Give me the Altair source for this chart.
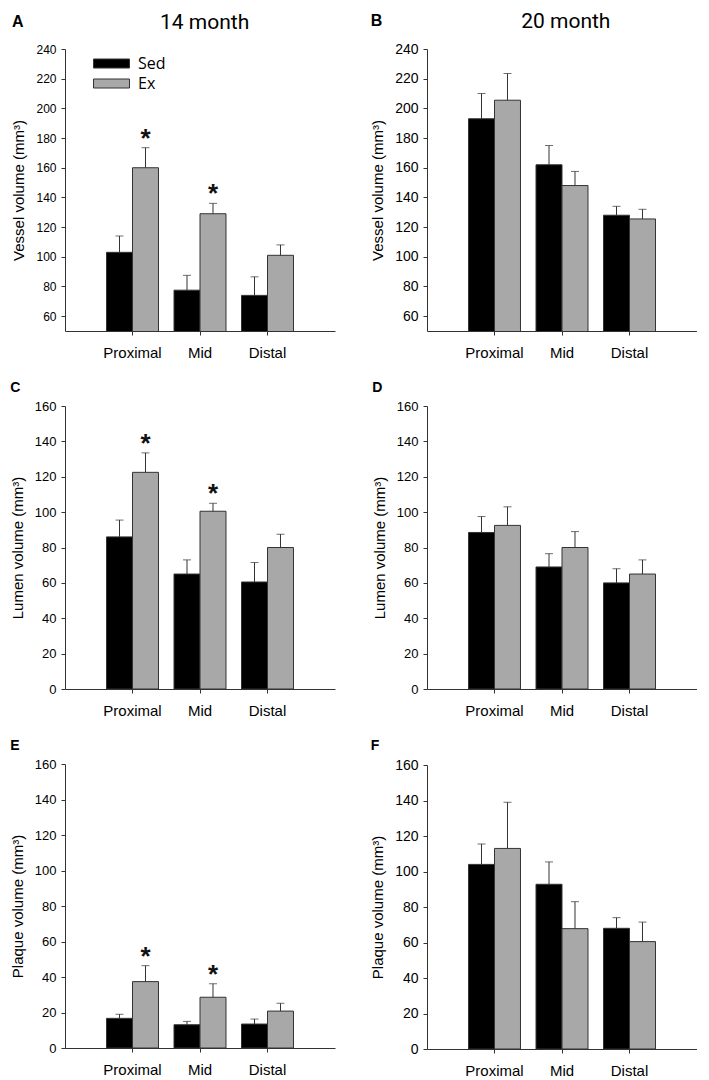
import altair as alt
import pandas as pd

regions = ["Proximal", "Mid", "Distal"]
groups = ["Sed", "Ex"]

# A: 14 month, vessel volume
a_sed = [103, 77.5, 74]
a_sed_err = [11, 10, 12.5]
a_ex = [160, 129, 101]
a_ex_err = [13.5, 7, 7]
a_sig = [True, True, False]

# B: 20 month, vessel volume
b_sed = [193, 162, 128]
b_sed_err = [17, 13, 6]
b_ex = [205.5, 148, 125.5]
b_ex_err = [18, 9.5, 6.5]
b_sig = [False, False, False]

# C: 14 month, lumen volume
c_sed = [86, 65, 60.5]
c_sed_err = [9.5, 8, 11]
c_ex = [122.5, 100.5, 80]
c_ex_err = [11, 4.5, 7.5]
c_sig = [True, True, False]

# D: 20 month, lumen volume
d_sed = [88.5, 69, 60]
d_sed_err = [9, 7.5, 8]
d_ex = [92.5, 80, 65]
d_ex_err = [10.5, 9, 8]
d_sig = [False, False, False]

# E: 14 month, plaque volume
e_sed = [16.7, 13.1, 13.5]
e_sed_err = [2.3, 1.9, 2.8]
e_ex = [37.4, 28.6, 20.8]
e_ex_err = [9, 7.6, 4.4]
e_sig = [True, True, False]

# F: 20 month, plaque volume
f_sed = [104, 92.8, 68]
f_sed_err = [11.5, 12.6, 6]
f_ex = [113, 67.8, 60.5]
f_ex_err = [26, 15.2, 11]
f_sig = [False, False, False]

vessel_ticks = [60, 80, 100, 120, 140, 160, 180, 200, 220, 240]
small_ticks = [0, 20, 40, 60, 80, 100, 120, 140, 160]

AXFONT = "Liberation Sans"
W = 270


def panel(letter, letter_size, letter_offset, ytitle, sed, sed_err, ex, ex_err, sig,
          ydomain, yticks, label_size, height, show_legend=False):
    df = pd.DataFrame({
        "region": regions * 2,
        "group": ["Sed"] * 3 + ["Ex"] * 3,
        "mean": sed + ex,
        "top": [m + e for m, e in zip(sed + ex, sed_err + ex_err)],
        "sig": [False] * 3 + sig,
    })
    x = alt.X("region:N", sort=regions,
              scale=alt.Scale(paddingInner=0.23, paddingOuter=0.615),
              axis=alt.Axis(title=None, labelAngle=0, labelFontSize=15,
                            labelPadding=10, tickSize=4, grid=False))
    xo = alt.XOffset("group:N", sort=groups,
                     scale=alt.Scale(domain=groups, paddingInner=0, paddingOuter=0))
    yscale = alt.Scale(domain=ydomain, zero=False, nice=False)
    yaxis = alt.Axis(values=yticks, labelFontSize=label_size, tickSize=4, grid=False,
                     labelPadding=5, titleFontSize=15, titlePadding=9,
                     titleFontWeight="normal")
    if show_legend:
        leg = alt.Legend(orient="none", legendX=28, legendY=5, title=None,
                         symbolType="M-2,-0.5H2V0.5H-2Z", symbolSize=324,
                         symbolOffset=9, labelOffset=17, labelFont="Open Sans",
                         labelFontSize=16, labelColor="black", rowPadding=2,
                         symbolStrokeColor="#333", symbolStrokeWidth=1, padding=0)
    else:
        leg = None
    color = alt.Color("group:N", sort=groups,
                      scale=alt.Scale(domain=groups, range=["#000000", "#a8a8a8"]),
                      legend=leg)
    base = alt.Chart(df)
    bars = base.mark_bar(stroke="#333", strokeWidth=1, clip=True).encode(
        x=x, xOffset=xo,
        y=alt.Y("mean:Q", scale=yscale, axis=yaxis, title=ytitle),
        color=color)
    err = base.mark_rule(color="#333", strokeWidth=1).encode(
        x=x, xOffset=xo,
        y=alt.Y("mean:Q", scale=yscale, axis=yaxis, title=ytitle),
        y2="top:Q")
    cap = base.mark_tick(color="#333", thickness=1, size=8, orient="horizontal").encode(
        x=x, xOffset=xo,
        y=alt.Y("top:Q", scale=yscale, axis=yaxis, title=ytitle))
    star = base.transform_filter("datum.sig").mark_text(
        text="*", font=AXFONT, fontSize=26, fontWeight="bold",
        baseline="alphabetic", dy=-1, color="#111").encode(
        x=x, xOffset=xo,
        y=alt.Y("top:Q", scale=yscale, axis=yaxis, title=ytitle))
    return alt.layer(bars, err, cap, star).properties(
        width=W, height=height,
        title=alt.TitleParams(letter, anchor="start", frame="bounds", font=AXFONT,
                              fontSize=letter_size, fontWeight="bold",
                              offset=letter_offset, color="black"))


A = panel("A", 16, 13, "Vessel volume (mm³)", a_sed, a_sed_err, a_ex, a_ex_err, a_sig,
          [50, 240], vessel_ticks, 12, 282, show_legend=True)
B = panel("B", 16, 13, "Vessel volume (mm³)", b_sed, b_sed_err, b_ex, b_ex_err, b_sig,
          [50, 240], vessel_ticks, 14, 282)
C = panel("C", 14, 5, "Lumen volume (mm³)", c_sed, c_sed_err, c_ex, c_ex_err, c_sig,
          [0, 160], small_ticks, 13, 283)
D = panel("D", 14, 5, "Lumen volume (mm³)", d_sed, d_sed_err, d_ex, d_ex_err, d_sig,
          [0, 160], small_ticks, 13, 283)
E = panel("E", 14, 5, "Plaque volume (mm³)", e_sed, e_sed_err, e_ex, e_ex_err, e_sig,
          [0, 160], small_ticks, 13, 284)
F = panel("F", 14, 5, "Plaque volume (mm³)", f_sed, f_sed_err, f_ex, f_ex_err, f_sig,
          [0, 160], small_ticks, 14, 284)

coltitle = dict(anchor="middle", font="Roboto", fontSize=21, fontWeight="normal",
                color="black", offset=-19, dx=32)

left = alt.vconcat(A, C, E, spacing=21).properties(
    title=alt.TitleParams("14 month", **coltitle)
).resolve_scale(color="independent").resolve_legend(color="independent")
right = alt.vconcat(B, D, F, spacing=21).properties(
    title=alt.TitleParams("20 month", **coltitle)
).resolve_scale(color="independent").resolve_legend(color="independent")

chart = alt.hconcat(left, right, spacing=35).resolve_scale(
    color="independent").resolve_legend(color="independent").properties(
    padding={"left": 2, "top": 3, "right": 0, "bottom": 0},
    background="white"
).configure_view(stroke=None).configure_axis(
    labelFont=AXFONT, titleFont=AXFONT, labelColor="black", titleColor="black",
    titleFontWeight="normal", domainColor="#333", tickColor="#333", grid=False
)

chart.save("out.html", embed_options={"renderer": "svg", "actions": False})
